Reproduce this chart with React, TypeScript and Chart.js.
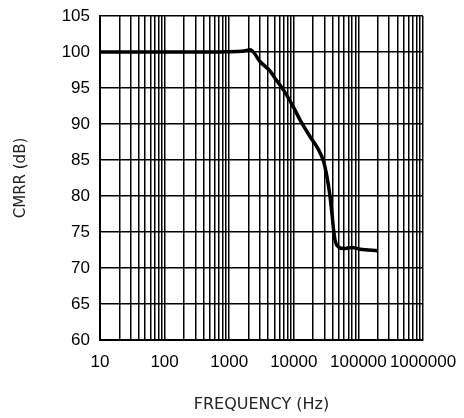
import React, { useEffect, useRef } from "react";
import { Chart, registerables } from "chart.js";

Chart.register(...registerables);

const frequencyHz = [10, 100, 1000, 1700, 2120, 3020, 4330, 5170, 6950, 9930, 12600, 18000, 24200, 28900, 32600, 35800, 38900, 41300, 43900, 49400, 59000, 79500, 107000, 200000];
const cmrrDb = [100, 100, 100.05, 100.15, 100.3, 98.65, 97.3, 96.3, 94.7, 92.3, 90.5, 88.2, 86.4, 84.8, 82.7, 80.4, 77.6, 75.3, 73.7, 72.9, 72.7, 72.85, 72.6, 72.4];
const decades = [10, 100, 1000, 10000, 100000, 1000000];
const yMin = 60;
const yMax = 105;
const yStep = 5;

export default function App() {
  const ref = useRef<HTMLCanvasElement | null>(null);

  useEffect(() => {
    document.body.style.margin = "0";
    const canvas = ref.current;
    if (!canvas) return;
    const xTicks: number[] = [];
    for (let d = 0; d < decades.length - 1; d++) {
      for (let m = 1; m <= 9; m++) xTicks.push(decades[d] * m);
    }
    xTicks.push(decades[decades.length - 1]);

    const chart = new Chart(canvas, {
      type: "line",
      data: {
        datasets: [
          {
            data: frequencyHz.map((f, i) => ({ x: f, y: cmrrDb[i] })),
            borderColor: "#000",
            borderWidth: 3.5,
            pointRadius: 0,
            cubicInterpolationMode: "monotone",
            fill: false,
          },
        ],
      },
      options: {
        responsive: false,
        animation: false,
        layout: { padding: { left: 0, right: 41, top: 16, bottom: 0 } },
        plugins: { legend: { display: false }, tooltip: { enabled: false } },
        scales: {
          x: {
            type: "logarithmic",
            min: 10,
            max: 1000000,
            afterBuildTicks: (scale: any) => {
              scale.ticks = xTicks.map((v) => ({ value: v }));
            },
            afterFit: (scale: any) => {
              scale.height = 78;
              scale.paddingLeft = 0;
              scale.paddingRight = 0;
            },
            grid: { color: "#000", lineWidth: 1.5, drawTicks: false },
            border: { color: "#000", width: 2 },
            ticks: {
              autoSkip: false,
              maxRotation: 0,
              padding: 12,
              color: "#000",
              font: { family: "'Liberation Sans', Arial, sans-serif", size: 17 },
              callback: (v: any) => (decades.includes(Number(v)) ? String(v) : ""),
            },
            title: {
              display: true,
              text: "FREQUENCY (Hz)",
              color: "#222",
              font: { family: "'DejaVu Sans', sans-serif", size: 16 },
              padding: { top: 0, bottom: 3.5 },
            },
          },
          y: {
            min: yMin,
            max: yMax,
            afterFit: (scale: any) => {
              scale.width = 100;
              scale.paddingTop = 0;
              scale.paddingBottom = 0;
            },
            grid: { color: "#000", lineWidth: 1.5, drawTicks: false },
            border: { color: "#000", width: 2 },
            ticks: {
              stepSize: yStep,
              padding: 10,
              color: "#000",
              font: { family: "'Liberation Sans', Arial, sans-serif", size: 17 },
            },
            title: {
              display: true,
              text: "CMRR (dB)",
              color: "#222",
              font: { family: "'DejaVu Sans', sans-serif", size: 15 },
              padding: { top: 12, bottom: 0 },
            },
          },
        },
      },
    } as any);
    return () => chart.destroy();
  }, []);

  return (
    <div style={{ position: "absolute", left: 0, top: 0, width: 464, height: 418, background: "#fff" }}>
      <canvas ref={ref} width={464} height={418} />
    </div>
  );
}
